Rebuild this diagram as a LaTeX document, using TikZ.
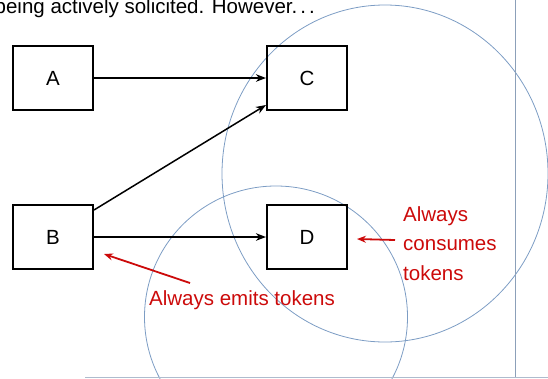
\documentclass[tikz,border=0pt]{standalone}
\usepackage{fontspec}
\setmainfont{Liberation Sans}
\usetikzlibrary{arrows.meta}
\definecolor{ellblue}{RGB}{125,157,196}
\definecolor{tokred}{RGB}{204,10,10}
\definecolor{edgegrey}{RGB}{140,160,185}
\tikzset{
  blockbox/.style={draw=black, line width=2pt, minimum width=80pt, minimum height=64pt, inner sep=0pt, font=\fontsize{20.5}{24}\selectfont},
  flowarrow/.style={line width=1.5pt, -{Stealth[length=10pt,width=7.5pt,inset=3pt]}},
  notearrow/.style={draw=tokred, line width=1.8pt, -{Stealth[length=9pt,width=7pt,inset=3pt]}},
  notetext/.style={text=tokred, inner sep=0pt, font=\fontsize{20.5}{29.5}\selectfont},
  ringline/.style={draw=ellblue, line width=0.8pt},
}
\begin{document}
\begin{tikzpicture}[x=1pt,y=-1pt]
\useasboundingbox (0,0) rectangle (548,378);
\begin{scope}
\clip (0,0) rectangle (548,378);
% top text
\node[anchor=base east, inner sep=0pt, font=\fontsize{20.5}{24}\selectfont] (toptext) at (315,13) {being actively solicited. However.\kern3pt.\kern3pt.};
% ellipses
\draw[ringline] (385,173.5) ellipse [x radius=163pt, y radius=168.5pt];
\draw[ringline] (276,317) ellipse [x radius=131.5pt, y radius=131pt];
% frame lines
\coordinate (vtop) at (515,0);
\coordinate (vbot) at (515,377);
\coordinate (hleft) at (85,377);
\coordinate (hright) at (548,377);
\draw[edgegrey, line width=0.8pt] (vtop) -- (vbot);
\draw[edgegrey!70, line width=0.8pt] (hleft) -- (hright);
% boxes
\node[blockbox] (A) at (53,78) {A};
\node[blockbox] (C) at (307,78) {C};
\node[blockbox] (B) at (53,237) {B};
\node[blockbox] (D) at (307,237) {D};
% arrows
\draw[flowarrow] (A.east) -- (C.west);
\draw[flowarrow] ([yshift=-6pt]B.north east) -- ([yshift=6pt]C.south west);
\draw[flowarrow] (B.east) -- (D.west);
% notes
\node[notetext, anchor=base west] (emits) at (149,305) {Always emits tokens};
\node[notetext, anchor=base west, align=left] (consumes) at (403,280) {Always\\consumes\\tokens};
\coordinate (emitstail) at (190,283);
\coordinate (constail) at (395,240);
\draw[notearrow] (emitstail) -- ([xshift=10pt,yshift=16pt]B.south east);
\draw[notearrow] (constail) -- ([xshift=9pt,yshift=-2pt]D.east);
\end{scope}
\end{tikzpicture}
\end{document}
